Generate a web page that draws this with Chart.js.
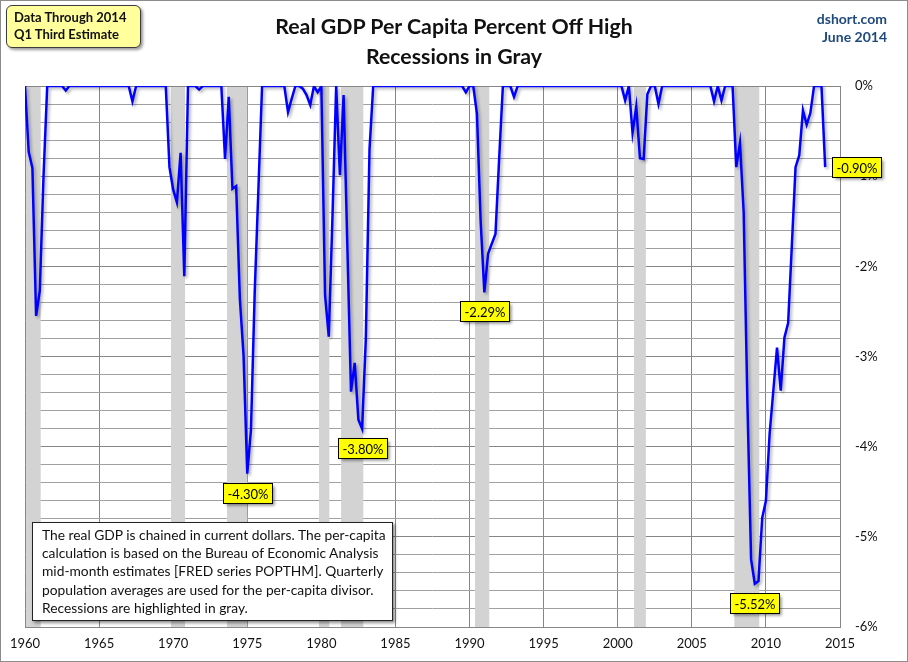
<!DOCTYPE html>
<html>
<head>
<meta charset="utf-8">
<title>Real GDP Per Capita Percent Off High</title>
<script src="https://cdn.jsdelivr.net/npm/chart.js@4.4.1/dist/chart.umd.min.js"></script>
<style>
  body { margin: 0; background: #fff; }
  .frame { position: relative; width: 908px; height: 662px; overflow: hidden; font-family: Lato, "Open Sans", sans-serif; color: #111; }
  #chart { position: absolute; left: 0; top: 0; }
  .edge { position: absolute; left: 0; top: 0; width: 906px; height: 660px; border: 1px solid #8c8c8c; pointer-events: none; }
  .title { position: absolute; left: 150px; width: 608px; top: 11px; text-align: center; font-weight: bold; font-size: 21.3px; line-height: 30px; }
  .stamp { position: absolute; left: 6px; top: 5px; width: 135px; height: 43px; box-sizing: border-box; padding: 3px 0 0 7px; background: #ffff9c; border: 1px solid #3c3c3c; border-radius: 6px; box-shadow: 2px 2px 3px rgba(0,0,0,0.4); font-weight: bold; font-size: 13px; line-height: 17px; }
  .source { position: absolute; right: 21px; top: 10px; text-align: right; color: #1f497d; font-weight: bold; font-size: 14px; line-height: 18px; }
  .note { position: absolute; left: 32px; top: 522px; width: 361px; height: 99px; box-sizing: border-box; padding: 3px 0 0 9px; background: #fff; border: 1px solid #222; box-shadow: 2px 2px 3px rgba(0,0,0,0.45); font-size: 13.8px; line-height: 18.2px; white-space: nowrap; }
</style>
</head>
<body>
<div class="frame">
  <canvas id="chart" width="908" height="662"></canvas>
  <div class="title">Real GDP Per Capita Percent Off High<br>Recessions in Gray</div>
  <div class="stamp">Data Through 2014<br>Q1 Third Estimate</div>
  <div class="source">dshort.com<br>June 2014</div>
  <div class="note">The real GDP is chained in current dollars. The per-capita<br>calculation is based on the Bureau of Economic Analysis<br>mid-month estimates [FRED series POPTHM]. Quarterly<br>population averages are used for the per-capita divisor.<br>Recessions are highlighted in gray.</div>
  <div class="edge"></div>
</div>
<script>
// quarterly, percent off previous high, starting 1960 Q1
const startYear = 1960;
const offHigh1960s = [
  0, -0.73, -0.91, -2.55,   -2.27, -1.0, 0, 0,   0, 0, 0, -0.05,   0, 0, 0, 0,
  0, 0, 0, 0,   0, 0, 0, 0,   0, 0, 0, 0,   0, -0.17, 0, 0,   0, 0, 0, 0,
  0, 0, 0, -0.9
];
const offHigh1970s = [
  -1.15, -1.29, -0.74, -2.11,   0, 0, 0, -0.04,   0, 0, 0, 0,   0, 0, -0.81, -0.12,
  -1.14, -1.11, -2.36, -2.99,   -4.30, -3.81, -2.3, -1.15,   0, 0, 0, 0,
  0, 0, 0, -0.29,   -0.14, 0, 0, -0.03,   -0.1, -0.21, 0, -0.07
];
const offHigh1980s = [
  0, -2.32, -2.78, -1.45,   0, -0.99, -0.1, -1.75,   -3.39, -3.07, -3.70, -3.80,
  -2.81, -0.70, 0, 0,   0, 0, 0, 0,   0, 0, 0, 0,   0, 0, 0, 0,   0, 0, 0, 0,
  0, 0, 0, 0,   0, 0, 0, -0.07
];
const offHigh1990s = [
  0, 0, -0.31, -1.5,   -2.29, -1.86, -1.75, -1.64,   -0.8, 0, 0, 0,   -0.12, 0, 0, 0,
  0, 0, 0, 0,   0, 0, 0, 0,   0, 0, 0, 0,   0, 0, 0, 0,   0, 0, 0, 0,   0, 0, 0, 0
];
const offHigh2000s = [
  0, 0, -0.16, 0,   -0.52, -0.23, -0.80, -0.81,   -0.09, 0, 0, -0.2,   0, 0, 0, 0,
  0, 0, 0, 0,   0, 0, 0, 0,   0, 0, -0.17, 0,   -0.16, 0, 0, 0,
  -0.9, -0.63, -1.4, -3.5,   -5.25, -5.52, -5.49, -4.79
];
const offHigh2010s = [
  -4.6, -3.86, -3.38, -2.90,   -3.38, -2.79, -2.63, -1.77,   -0.9, -0.77, -0.27, -0.43,
  -0.3, 0, 0, 0,   -0.90
];
const offHigh = [].concat(offHigh1960s, offHigh1970s, offHigh1980s, offHigh1990s, offHigh2000s, offHigh2010s);

// recession spans in decimal years
const recessions = [
  [1960.07, 1961.06], [1969.85, 1970.8], [1973.63, 1975.0], [1979.84, 1980.54],
  [1981.33, 1982.83], [1990.37, 1991.33], [2001.1, 2001.9], [2007.87, 2009.55]
];

// troughs that get a yellow value tag
const callouts = [
  { index: 60, side: "below" },
  { index: 91, side: "below" },
  { index: 124, side: "below" },
  { index: 197, side: "below" },
  { index: 216, side: "right" }
];

const xMin = 1960, xMax = 2015, xStep = 5;
const yMin = -6, yMax = 0, yStep = 1, yMinorStep = 0.2;

let points = offHigh.map((v, i) => ({ x: startYear + i / 4, y: v }));

// light gridlines every 0.2% between the labelled whole percents
let yMinorGrid = [];
for (let k = 1; k < Math.round((yMax - yMin) / yMinorStep); k++) {
  let v = Math.round((yMin + k * yMinorStep) * 10) / 10;
  if (v !== Math.round(v)) yMinorGrid.push(v);
}

let minorGrid = {
  id: "minorGrid",
  beforeDatasetsDraw(chart) {
    let { ctx, chartArea, scales } = chart;
    ctx.save();
    ctx.strokeStyle = "#a0a0a0";
    ctx.lineWidth = 1;
    ctx.beginPath();
    yMinorGrid.forEach(v => {
      let y = Math.floor(scales.y.getPixelForValue(v)) + 0.5;
      ctx.moveTo(chartArea.left, y);
      ctx.lineTo(chartArea.right, y);
    });
    ctx.stroke();
    ctx.restore();
  }
};

let recessionShading = {
  id: "recessionShading",
  beforeDatasetsDraw(chart) {
    let { ctx, chartArea, scales } = chart;
    ctx.save();
    ctx.fillStyle = "#d3d3d3";
    recessions.forEach(r => {
      let x0 = scales.x.getPixelForValue(r[0]);
      let x1 = scales.x.getPixelForValue(r[1]);
      ctx.fillRect(x0, chartArea.top + 1, x1 - x0, chartArea.bottom - chartArea.top - 1);
    });
    ctx.restore();
  }
};

let lineShadow = {
  id: "lineShadow",
  beforeDatasetDraw(chart) {
    let ctx = chart.ctx;
    ctx.save();
    ctx.shadowColor = "rgba(0,0,0,0.3)";
    ctx.shadowBlur = 3;
    ctx.shadowOffsetX = 2;
    ctx.shadowOffsetY = 2;
  },
  afterDatasetDraw(chart) {
    chart.ctx.restore();
  }
};

let valueTags = {
  id: "valueTags",
  afterDatasetsDraw(chart) {
    let { ctx, scales } = chart;
    ctx.save();
    ctx.font = "13px Lato, 'Open Sans', sans-serif";
    ctx.textBaseline = "middle";
    ctx.textAlign = "center";
    callouts.forEach(c => {
      let p = points[c.index];
      let px = scales.x.getPixelForValue(p.x);
      let py = scales.y.getPixelForValue(p.y);
      let text = p.y.toFixed(2) + "%";
      let w = Math.round(ctx.measureText(text).width) + 8;
      let h = 20;
      let left, top;
      if (c.side === "right") {
        left = px + 7;
        top = py - h / 2;
      } else {
        left = px - w / 2;
        top = py + 9;
      }
      left = Math.round(left) + 0.5;
      top = Math.round(top) + 0.5;
      ctx.shadowColor = "rgba(0,0,0,0.45)";
      ctx.shadowBlur = 3;
      ctx.shadowOffsetX = 2;
      ctx.shadowOffsetY = 2;
      ctx.fillStyle = "#ffff00";
      ctx.fillRect(left, top, w, h);
      ctx.shadowColor = "transparent";
      ctx.strokeStyle = "#000";
      ctx.lineWidth = 1;
      ctx.strokeRect(left, top, w, h);
      ctx.fillStyle = "#000";
      ctx.fillText(text, left + w / 2, top + h / 2 + 1);
    });
    ctx.restore();
  }
};

Chart.defaults.font.family = "Lato, 'Open Sans', sans-serif";
Chart.defaults.font.size = 13;
Chart.defaults.color = "#111";

new Chart(document.getElementById("chart"), {
  type: "line",
  data: {
    datasets: [{
      label: "Real GDP per capita, percent off high",
      data: points,
      borderColor: "#0000ff",
      borderWidth: 2.5,
      pointRadius: 0,
      tension: 0,
      fill: false
    }]
  },
  options: {
    responsive: false,
    animation: false,
    layout: { padding: { left: 25, top: 86, right: 0, bottom: 0 } },
    plugins: {
      legend: { display: false },
      tooltip: { enabled: false }
    },
    scales: {
      x: {
        type: "linear",
        min: xMin,
        max: xMax,
        afterFit(scale) { scale.height = 35; },
        ticks: {
          stepSize: xStep,
          padding: 9,
          autoSkip: false,
          maxRotation: 0,
          callback: v => String(v)
        },
        grid: { color: "#868686", drawTicks: false },
        border: { color: "#868686" }
      },
      y: {
        position: "right",
        min: yMin,
        max: yMax,
        afterFit(scale) { scale.width = 68; },
        ticks: {
          stepSize: yStep,
          autoSkip: false,
          padding: 15,
          crossAlign: "near",
          callback: v => `${Math.round(v)}%`
        },
        grid: { color: "#868686", drawTicks: false },
        border: { color: "#868686" }
      }
    }
  },
  plugins: [minorGrid, recessionShading, lineShadow, valueTags]
});
</script>
</body>
</html>
